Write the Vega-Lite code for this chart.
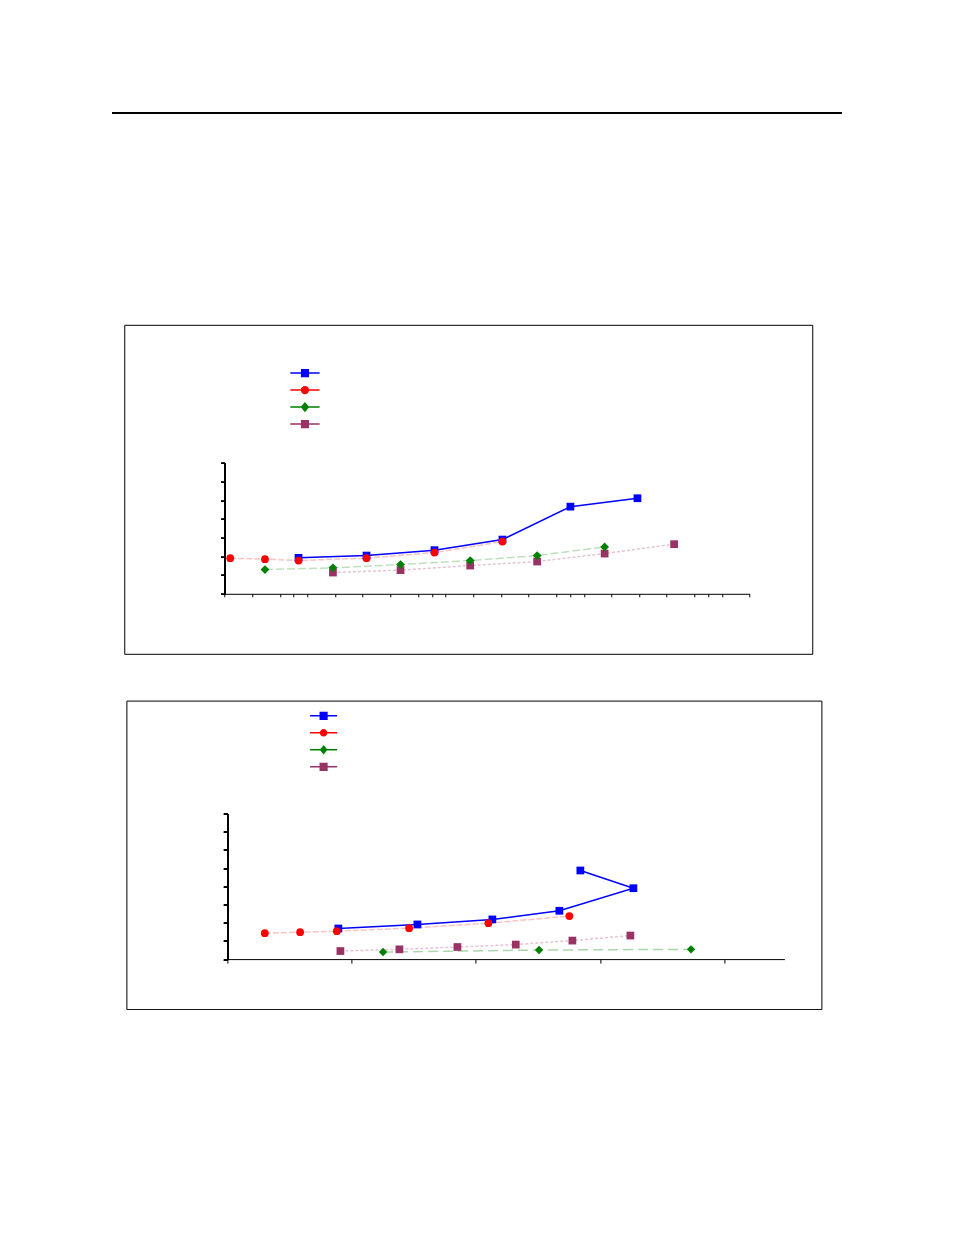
{
  "$schema": "https://vega.github.io/schema/vega-lite/v6.json",
  "background": "white",
  "padding": {"left": 111, "top": 112, "right": 0, "bottom": 0},
  "spacing": 44.8,
  "bounds": "full",
  "center": true,
  "resolve": {
    "scale": {"color": "independent"},
    "legend": {"color": "independent"}
  },
  "config": {
    "view": {"stroke": null},
    "axis": {"labels": false, "title": null, "grid": false, "domainColor": "black", "tickColor": "black", "tickSize": 4, "domainWidth": 1, "tickWidth": 1, "zindex": 1}
  },
  "datasets": {
    "top": [
      {"s": "S1", "i": 1, "x": 11.78, "y": 19.25},
      {"s": "S1", "i": 2, "x": 113.5, "y": 20.48},
      {"s": "S1", "i": 3, "x": 1094, "y": 23.37},
      {"s": "S1", "i": 4, "x": 10544, "y": 29.04},
      {"s": "S1", "i": 5, "x": 101600, "y": 46.68},
      {"s": "S1", "i": 6, "x": 948400, "y": 51.18},
      {"s": "S2", "i": 1, "x": 1.209, "y": 19.09},
      {"s": "S2", "i": 2, "x": 3.846, "y": 18.56},
      {"s": "S2", "i": 3, "x": 11.78, "y": 17.81},
      {"s": "S2", "i": 4, "x": 113.5, "y": 19.09},
      {"s": "S2", "i": 5, "x": 1094, "y": 22.09},
      {"s": "S2", "i": 6, "x": 10544, "y": 27.97},
      {"s": "S3", "i": 1, "x": 3.846, "y": 12.99},
      {"s": "S3", "i": 2, "x": 37.07, "y": 13.9},
      {"s": "S3", "i": 3, "x": 352.4, "y": 15.67},
      {"s": "S3", "i": 4, "x": 3597, "y": 17.81},
      {"s": "S3", "i": 5, "x": 33500, "y": 20.48},
      {"s": "S3", "i": 6, "x": 317700, "y": 25.13},
      {"s": "S4", "i": 1, "x": 37.07, "y": 11.39},
      {"s": "S4", "i": 2, "x": 352.4, "y": 12.67},
      {"s": "S4", "i": 3, "x": 3597, "y": 15.13},
      {"s": "S4", "i": 4, "x": 33500, "y": 17.27},
      {"s": "S4", "i": 5, "x": 317700, "y": 21.55},
      {"s": "S4", "i": 6, "x": 3221000, "y": 26.58}
    ],
    "bottom": [
      {"s": "S1", "i": 1, "x": 17.87, "y": 16.84},
      {"s": "S1", "i": 2, "x": 30.6, "y": 19.06},
      {"s": "S1", "i": 3, "x": 42.67, "y": 21.83},
      {"s": "S1", "i": 4, "x": 53.46, "y": 26.59},
      {"s": "S1", "i": 5, "x": 65.38, "y": 39.0},
      {"s": "S1", "i": 6, "x": 56.84, "y": 48.75},
      {"s": "S2", "i": 1, "x": 6.02, "y": 14.24},
      {"s": "S2", "i": 2, "x": 11.71, "y": 14.79},
      {"s": "S2", "i": 3, "x": 17.62, "y": 15.35},
      {"s": "S2", "i": 4, "x": 29.26, "y": 17.01},
      {"s": "S2", "i": 5, "x": 42.03, "y": 19.78},
      {"s": "S2", "i": 6, "x": 55.07, "y": 23.66},
      {"s": "S3", "i": 1, "x": 25.07, "y": 3.88},
      {"s": "S3", "i": 2, "x": 50.19, "y": 4.99},
      {"s": "S3", "i": 3, "x": 74.66, "y": 5.37},
      {"s": "S4", "i": 1, "x": 18.2, "y": 4.43},
      {"s": "S4", "i": 2, "x": 27.7, "y": 5.37},
      {"s": "S4", "i": 3, "x": 37.04, "y": 6.65},
      {"s": "S4", "i": 4, "x": 46.44, "y": 7.98},
      {"s": "S4", "i": 5, "x": 55.56, "y": 10.19},
      {"s": "S4", "i": 6, "x": 64.9, "y": 12.96}
    ]
  },
  "vconcat": [
    {
      "width": 730,
      "height": 166,
      "view": {"stroke": null},
      "data": {"values": [{}]},
      "mark": {"type": "rule", "strokeWidth": 2, "color": "black"},
      "encoding": {"y": {"datum": 1, "type": "quantitative", "scale": {"domain": [0, 1]}, "axis": null}}
    },
    {
      "width": 688,
      "height": 329,
      "view": {"stroke": "black", "strokeWidth": 1},
      "data": {"name": "top"},
      "encoding": {
        "x": {"field": "x", "type": "quantitative", "scale": {"type": "log", "domain": [1, 39810717], "range": [100.3, 625.3], "nice": false},
          "axis": {"orient": "bottom", "offset": -60, "tickSize": 3, "values": [1, 2.5119, 6.3096, 10, 15.849, 39.811, 100, 251.19, 630.96, 1000, 1584.9, 3981.1, 10000, 25119, 63096, 100000, 158489, 398107, 1000000, 2511886, 6309573, 10000000, 15848932, 39810717]}},
        "y": {"field": "y", "type": "quantitative", "scale": {"domain": [0, 70], "range": [269, 138.3], "nice": false, "zero": false},
          "axis": {"orient": "left", "offset": -100.3, "values": [0, 10, 20, 30, 40, 50, 60, 70]}},
        "order": {"field": "i"}
      },
      "layer": [
        {
          "data": {"values": [{}]},
          "mark": {"type": "rect", "fillOpacity": 0, "stroke": "#808080", "strokeWidth": 1},
          "encoding": {
            "x": {"datum": 1, "type": "quantitative"},
            "x2": {"datum": 39810717},
            "y": {"datum": 0, "type": "quantitative"},
            "y2": {"datum": 70},
            "order": null
          }
        },
        {
          "data": {"values": [{}]},
          "mark": {"type": "point", "opacity": 0},
          "encoding": {
            "x": {"datum": 1, "type": "quantitative"},
            "y": {"datum": 0, "type": "quantitative", "axis": {"orient": "right", "offset": 0, "tickSize": 18, "tickOpacity": 0, "domain": false, "values": [0]}},
            "order": null
          }
        },
        {
          "transform": [{"filter": {"field": "s", "equal": "S4"}}],
          "mark": {"type": "line", "stroke": "#e6c3d4", "strokeWidth": 1.5, "strokeDash": [3, 2]}
        },
        {
          "transform": [{"filter": {"field": "s", "equal": "S3"}}],
          "mark": {"type": "line", "stroke": "#bfe0bf", "strokeWidth": 1.5, "strokeDash": [8, 3]}
        },
        {
          "transform": [{"filter": {"field": "s", "equal": "S2"}}],
          "mark": {"type": "line", "stroke": "#f8c4c4", "strokeWidth": 1.5, "strokeDash": [6, 2]}
        },
        {
          "transform": [{"filter": {"field": "s", "equal": "S1"}}],
          "mark": {"type": "line", "stroke": "#0000ff", "strokeWidth": 1.5}
        },
        {
          "transform": [{"filter": {"field": "s", "oneOf": ["S1", "S4"]}}],
          "mark": {"type": "point", "shape": "square", "filled": true, "opacity": 1, "size": 60},
          "encoding": {
            "color": {"field": "s", "type": "nominal", "scale": {"domain": ["S1", "S2", "S3", "S4"], "range": ["#0000ff", "#ff0000", "#008000", "#993366"]},
              "legend": {"orient": "none", "legendX": 170.7, "legendY": 38.3, "title": null, "labelExpr": "''", "labelFontSize": 1, "padding": 0, "rowPadding": 0, "symbolSize": 335, "direction": "vertical",
                "symbolType": {"expr": "datum.value === 'S2' ? 'M-1.6,0H1.6M-0.37,0A0.37,0.37,0,1,0,0.37,0A0.37,0.37,0,1,0,-0.37,0Z' : datum.value === 'S3' ? 'M-1.6,0H1.6M0,-0.43L0.36,0L0,0.43L-0.36,0Z' : 'M-1.6,0H1.6M-0.36,-0.36H0.36V0.36H-0.36Z'"},
                "symbolStrokeColor": {"expr": "datum.value === 'S1' ? '#0000ff' : datum.value === 'S2' ? '#ff0000' : datum.value === 'S3' ? '#008000' : '#993366'"},
                "symbolStrokeWidth": 1.5,
                "symbolOpacity": 1}}
          }
        },
        {
          "transform": [{"filter": {"field": "s", "equal": "S2"}}],
          "mark": {"type": "point", "shape": "circle", "filled": true, "opacity": 1, "size": 60},
          "encoding": {"color": {"field": "s", "type": "nominal"}}
        },
        {
          "transform": [{"filter": {"field": "s", "equal": "S3"}}],
          "mark": {"type": "point", "shape": "diamond", "filled": true, "opacity": 1, "size": 78},
          "encoding": {"color": {"field": "s", "type": "nominal"}}
        }
      ],
      "resolve": {"axis": {"y": "independent"}}
    },
    {
      "width": 695,
      "height": 308.5,
      "view": {"stroke": "black", "strokeWidth": 1},
      "data": {"name": "bottom"},
      "encoding": {
        "x": {"field": "x", "type": "quantitative", "scale": {"domain": [0, 89.7], "range": [101, 658], "nice": false, "zero": false},
          "axis": {"orient": "bottom", "offset": -50, "values": [0, 20, 40, 60, 80]}},
        "y": {"field": "y", "type": "quantitative", "scale": {"domain": [0, 80], "range": [258.5, 113.1], "nice": false, "zero": false},
          "axis": {"orient": "left", "offset": -101, "values": [0, 10, 20, 30, 40, 50, 60, 70, 80]}},
        "order": {"field": "i"}
      },
      "layer": [
        {
          "data": {"values": [{}]},
          "mark": {"type": "rect", "fillOpacity": 0, "stroke": "#808080", "strokeWidth": 1},
          "encoding": {
            "x": {"datum": 0, "type": "quantitative"},
            "x2": {"datum": 89.7},
            "y": {"datum": 0, "type": "quantitative"},
            "y2": {"datum": 80},
            "order": null
          }
        },
        {
          "data": {"values": [{}]},
          "mark": {"type": "point", "opacity": 0},
          "encoding": {
            "x": {"datum": 0, "type": "quantitative"},
            "y": {"datum": 0, "type": "quantitative", "axis": {"orient": "right", "offset": 0, "tickSize": 6.7, "tickOpacity": 0, "domain": false, "values": [0]}},
            "order": null
          }
        },
        {
          "transform": [{"filter": {"field": "s", "equal": "S4"}}],
          "mark": {"type": "line", "stroke": "#e6c3d4", "strokeWidth": 1.5, "strokeDash": [3, 2]}
        },
        {
          "transform": [{"filter": {"field": "s", "equal": "S3"}}],
          "mark": {"type": "line", "stroke": "#acd7ac", "strokeWidth": 1.5, "strokeDash": [10, 5]}
        },
        {
          "transform": [{"filter": {"field": "s", "equal": "S2"}}],
          "mark": {"type": "line", "stroke": "#f8c4c4", "strokeWidth": 1.5, "strokeDash": [6, 2]}
        },
        {
          "transform": [{"filter": {"field": "s", "equal": "S1"}}],
          "mark": {"type": "line", "stroke": "#0000ff", "strokeWidth": 1.5}
        },
        {
          "transform": [{"filter": {"field": "s", "oneOf": ["S1", "S4"]}}],
          "mark": {"type": "point", "shape": "square", "filled": true, "opacity": 1, "size": 60},
          "encoding": {
            "color": {"field": "s", "type": "nominal", "scale": {"domain": ["S1", "S2", "S3", "S4"], "range": ["#0000ff", "#ff0000", "#008000", "#993366"]},
              "legend": {"orient": "none", "legendX": 186.7, "legendY": 4.75, "title": null, "labelExpr": "''", "labelFontSize": 1, "padding": 0, "rowPadding": 0, "symbolSize": 357, "direction": "vertical",
                "symbolType": {"expr": "datum.value === 'S2' ? 'M-1.43,0H1.43M-0.32,0A0.32,0.32,0,1,0,0.32,0A0.32,0.32,0,1,0,-0.32,0Z' : datum.value === 'S3' ? 'M-1.43,0H1.43M0,-0.37L0.31,0L0,0.37L-0.31,0Z' : 'M-1.43,0H1.43M-0.35,-0.35H0.35V0.35H-0.35Z'"},
                "symbolStrokeColor": {"expr": "datum.value === 'S1' ? '#0000ff' : datum.value === 'S2' ? '#ff0000' : datum.value === 'S3' ? '#008000' : '#993366'"},
                "symbolStrokeWidth": 1.5,
                "symbolOpacity": 1}}
          }
        },
        {
          "transform": [{"filter": {"field": "s", "equal": "S2"}}],
          "mark": {"type": "point", "shape": "circle", "filled": true, "opacity": 1, "size": 60},
          "encoding": {"color": {"field": "s", "type": "nominal"}}
        },
        {
          "transform": [{"filter": {"field": "s", "equal": "S3"}}],
          "mark": {"type": "point", "shape": "diamond", "filled": true, "opacity": 1, "size": 70},
          "encoding": {"color": {"field": "s", "type": "nominal"}}
        }
      ],
      "resolve": {"axis": {"y": "independent"}}
    }
  ]
}
